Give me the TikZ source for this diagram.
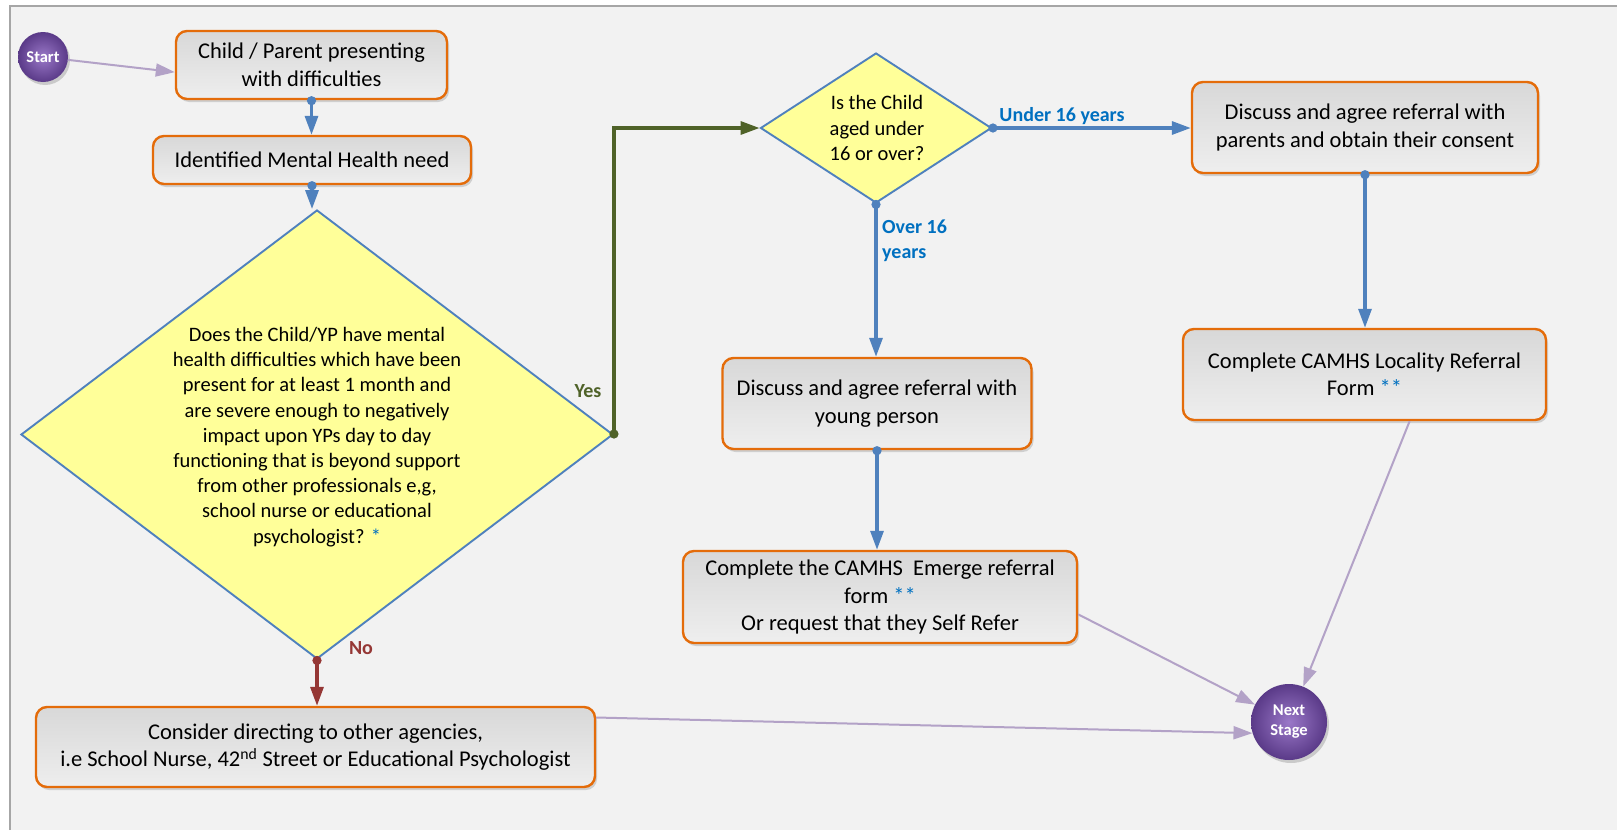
\documentclass[tikz,border=0pt]{standalone}
\usepackage{fontspec}
\setmainfont{Carlito}
\usetikzlibrary{shapes.geometric,arrows.meta,shadows,calc}
\definecolor{bg}{HTML}{F2F2F2}
\definecolor{framec}{HTML}{A6A6A6}
\definecolor{orangeb}{HTML}{E46C0A}
\definecolor{blueln}{HTML}{4F81BD}
\definecolor{diafill}{HTML}{FFFF99}
\definecolor{yesgreen}{HTML}{4F6228}
\definecolor{nored}{HTML}{953735}
\definecolor{lav}{HTML}{B3A2C7}
\definecolor{lblblue}{HTML}{0070C0}
\definecolor{purpA}{HTML}{9A78C8}
\definecolor{purpB}{HTML}{5A3A88}
\definecolor{boxtop}{HTML}{D8D8D8}
\definecolor{boxbot}{HTML}{EEEEEE}
\begin{document}
\begin{tikzpicture}[x=1pt,y=-1pt,
  box/.style={draw=orangeb, line width=2.4pt, rounded corners=11pt,
    top color=boxtop, bottom color=boxbot,
    drop shadow={shadow xshift=2pt,shadow yshift=-3pt,opacity=0.3},
    align=center, inner sep=0pt, font=\fontsize{22.5}{27.5}\selectfont},
  dia/.style={diamond, draw=blueln, line width=1.9pt, fill=diafill, inner sep=0pt},
  diatext/.style={align=center, inner sep=0pt, font=\fontsize{20.5}{25.2}\selectfont},
  ball/.style={circle, inner sep=0pt, inner color=purpA, outer color=purpB,
    drop shadow={shadow xshift=2pt,shadow yshift=-3pt,opacity=0.35},
    text=white, align=center, font=\bfseries\fontsize{16.5}{20}\selectfont},
  lbl/.style={inner sep=0pt, font=\bfseries\fontsize{20}{25}\selectfont},
  star/.style={text=lblblue, font=\bfseries},
  conn/.style={line width=3.2pt, shorten <=-4pt, {Circle[length=9pt]}-{Triangle[length=19pt,width=13pt]}},
  bluearr/.style={conn, draw=blueln},
  greenarr/.style={conn, draw=yesgreen},
  redarr/.style={conn, draw=nored},
  lavarr/.style={draw=lav, line width=2pt, -{Triangle[length=19pt,width=13pt]}},
]
\useasboundingbox (0,0) rectangle (1617,830);
\fill[white] (0,0) rectangle (1617,830);
\fill[bg] (10,6) rectangle (1617,830);
\draw[framec, line width=2pt] (10,830) -- (10,6) -- (1617,6);

% nodes
\node[ball, minimum size=50pt] (start) at (43,57) {Start};
\node[box, minimum width=271pt, minimum height=68pt] (b1) at (311.5,65) {Child / Parent presenting\\with difficulties};
\node[box, minimum width=318pt, minimum height=48pt] (b2) at (312,160) {Identified Mental Health need};
\node[dia, minimum width=592pt, minimum height=449pt] (q1) at (317,434.5) {};
\node[diatext] (q1t) at (317,437) {Does the Child/YP have mental\\health difficulties which have been\\present for at least 1 month and\\are severe enough to negatively\\impact upon YPs day to day\\functioning that is beyond support\\from other professionals e,g,\\school nurse or educational\\psychologist? {\color{lblblue}*}};
\node[dia, minimum width=231pt, minimum height=150pt] (q2) at (876,128) {};
\node[diatext] (q2t) at (877,128) {Is the Child\\aged under\\16 or over?};
\node[box, minimum width=346pt, minimum height=91pt] (b3) at (1365,127.5) {Discuss and agree referral with\\parents and obtain their consent};
\node[box, minimum width=363pt, minimum height=91pt] (b4) at (1364.5,374.5) {Complete CAMHS Locality Referral\\Form {\color{lblblue}**}};
\node[box, minimum width=309pt, minimum height=91pt] (b5) at (877,403.5) {Discuss and agree referral with\\young person};
\node[box, minimum width=394pt, minimum height=92pt] (b6) at (880,597) {Complete the CAMHS\ \ Emerge referral\\form {\color{lblblue}**}\\Or request that they Self Refer};
\node[box, minimum width=559pt, minimum height=80pt] (b7) at (315.5,747) {Consider directing to other agencies,\\i.e School Nurse, 42\textsuperscript{nd} Street or Educational Psychologist};
\node[ball, minimum size=76pt] (next) at (1289,722) {Next\\Stage};

% labels
\node[lbl, text=yesgreen] (yes) at (588,391) {Yes};
\node[lbl, text=nored] (no) at (361,648) {No};
\node[lbl, text=lblblue] (under) at (1062,116) {Under 16 years};
\node[lbl, text=lblblue, align=left, anchor=west] (over) at (882,241) {Over 16\\years};

% connectors
\draw[lavarr] (start) -- (b1.183);
\draw[bluearr] (b1.south) -- (b1.south |- b2.north);
\draw[bluearr] (b2.south) -- (b2.south |- q1.north);
\draw[greenarr] (q1.east) |- (q2.west);
\draw[redarr] (q1.south) -- (q1.south |- b7.north);
\draw[bluearr] (q2.east) -- (q2.east -| b3.west);
\draw[bluearr] (q2.south) -- (q2.south |- b5.north);
\draw[bluearr] (b3.south) -- (b3.south |- b4.north);
\draw[bluearr] (b5.south) -- (b5.south |- b6.north);
\draw[lavarr] (b7.6) -- (next.197);
\draw[lavarr] (b6.-5) -- (next);
\draw[lavarr] (b4.-46) -- (next);
\end{tikzpicture}
\end{document}
